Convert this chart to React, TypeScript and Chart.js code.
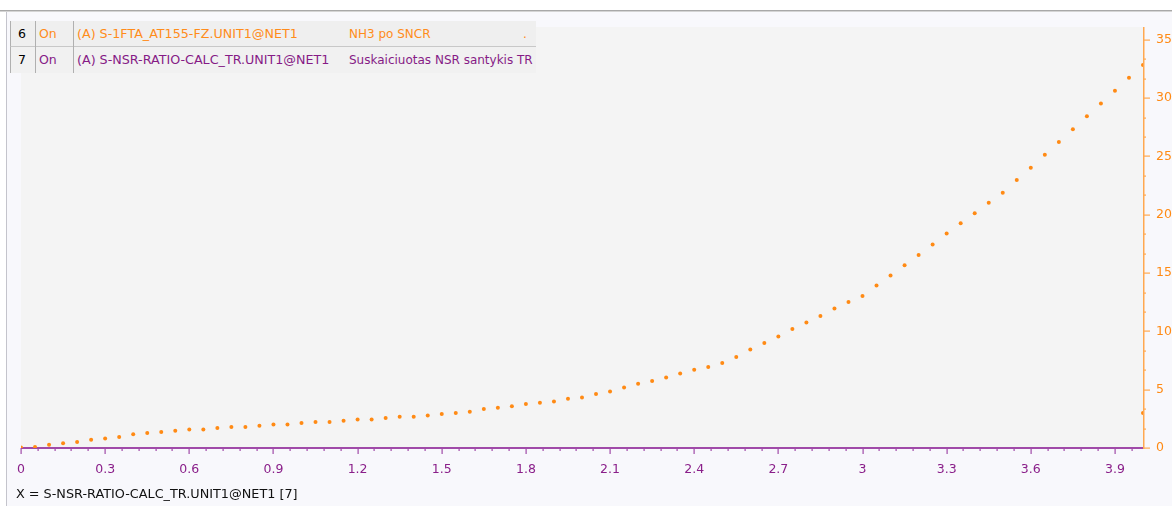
import React, { useEffect, useRef } from "react";
import { Chart, registerables } from "chart.js";

Chart.register(...registerables);

// ---- data ----
const xValues = [
  0, 0.05, 0.1, 0.15, 0.2, 0.25, 0.3, 0.35, 0.4, 0.45,
  0.5, 0.55, 0.6, 0.65, 0.7, 0.75, 0.8, 0.85, 0.9, 0.95,
  1.0, 1.05, 1.1, 1.15, 1.2, 1.25, 1.3, 1.35, 1.4, 1.45,
  1.5, 1.55, 1.6, 1.65, 1.7, 1.75, 1.8, 1.85, 1.9, 1.95,
  2.0, 2.05, 2.1, 2.15, 2.2, 2.25, 2.3, 2.35, 2.4, 2.45,
  2.5, 2.55, 2.6, 2.65, 2.7, 2.75, 2.8, 2.85, 2.9, 2.95,
  3.0, 3.05, 3.1, 3.15, 3.2, 3.25, 3.3, 3.35, 3.4, 3.45,
  3.5, 3.55, 3.6, 3.65, 3.7, 3.75, 3.8, 3.85, 3.9, 3.95,
  4.0,
];
const nh3Values = [
  0.05, 0.09, 0.28, 0.4, 0.51, 0.71, 0.82, 0.94, 1.17, 1.28,
  1.37, 1.48, 1.59, 1.59, 1.71, 1.8, 1.8, 1.91, 2.02, 2.02,
  2.14, 2.23, 2.23, 2.34, 2.45, 2.45, 2.57, 2.68, 2.68, 2.79,
  2.91, 3.0, 3.11, 3.34, 3.45, 3.57, 3.77, 3.88, 3.99, 4.22,
  4.34, 4.64, 4.85, 5.19, 5.51, 5.74, 6.05, 6.39, 6.71, 6.94,
  7.28, 7.8, 8.45, 9.0, 9.56, 10.2, 10.76, 11.31, 11.96, 12.51,
  13.04, 13.94, 14.79, 15.68, 16.54, 17.44, 18.39, 19.28, 20.14, 21.02,
  21.88, 22.99, 24.04, 25.14, 26.24, 27.34, 28.44, 29.54, 30.64, 31.74,
  32.84,
];
const edgeX = [4.0];
const edgeY = [3.0];

const xTicks = [0, 0.3, 0.6, 0.9, 1.2, 1.5, 1.8, 2.1, 2.4, 2.7, 3, 3.3, 3.6, 3.9];
const xTickLabels = ["0", "0.3", "0.6", "0.9", "1.2", "1.5", "1.8", "2.1", "2.4", "2.7", "3", "3.3", "3.6", "3.9"];
const yTicks = [0, 5, 10, 15, 20, 25, 30, 35];
const yTickLabels = ["0", "5", "10", "15", "20", "25", "30", "35"];

const legendIds = ["6", "7"];
const legendStates = ["On", "On"];
const legendTags = ["(A) S-1FTA_AT155-FZ.UNIT1@NET1", "(A) S-NSR-RATIO-CALC_TR.UNIT1@NET1"];
const legendDescs = ["NH3 po SNCR", "Suskaiciuotas NSR santykis TR"];
const legendExtras = [".", ""];
const xAxisTitle = "X = S-NSR-RATIO-CALC_TR.UNIT1@NET1 [7]";

// ---- styles ----
const ORANGE = "#ff8a14";
const ORANGE_AXIS = "#ffa850";
const PURPLE = "#8a1f8a";
const PURPLE_AXIS = "#a04aa8";
const legendColors = ["#ff8c1a", "#861b86"];
const FONT = "'DejaVu Sans', sans-serif";

const X_MAX = 4.0;
const Y_MAX = 36.1;

const framePlugin = {
  id: "frame",
  beforeDraw(chart: any) {
    const { ctx, chartArea: a, width, height } = chart;
    ctx.save();
    ctx.fillStyle = "#ffffff";
    ctx.fillRect(0, 0, width, height);
    ctx.fillStyle = "#f8f8fc";
    ctx.fillRect(7, 12, width - 7, height - 12);
    ctx.fillStyle = "#f4f4f4";
    ctx.fillRect(a.left, a.top, a.right - a.left, a.bottom - a.top);
    ctx.fillStyle = "#a8a8a8";
    ctx.fillRect(0, 10, width, 1);
    ctx.fillStyle = "#d4d4d4";
    ctx.fillRect(0, 11, width, 1);
    ctx.fillStyle = "#c4c4cc";
    ctx.fillRect(6, 12, 1, height - 12);
    ctx.restore();
  },
  beforeDatasetsDraw(chart: any) {
    const { ctx, chartArea: a } = chart;
    const xs = chart.scales.x;
    const ys = chart.scales.y;
    ctx.save();
    // x axis
    ctx.fillStyle = PURPLE_AXIS;
    ctx.fillRect(a.left, a.bottom - 1, a.right - a.left, 2);
    for (let i = 0; i * 0.06 <= X_MAX + 1e-9; i++) {
      const px = Math.round(xs.getPixelForValue(i * 0.06));
      if (px > a.right) break;
      const len = i % 5 === 0 ? 6 : 3;
      ctx.fillRect(px - 0.5, a.bottom, 1.2, len);
    }
    // y axis
    ctx.fillStyle = ORANGE_AXIS;
    ctx.fillRect(a.right, a.top, 1.5, a.bottom - a.top + 1);
    for (let i = 0; (i * 5) / 3 <= Y_MAX; i++) {
      const py = Math.round(ys.getPixelForValue((i * 5) / 3));
      const len = i % 3 === 0 ? 7 : 3;
      ctx.fillRect(a.right, py - 0.5, len, 1.2);
    }
    ctx.restore();
  },
};

export default function App() {
  const canvasRef = useRef<HTMLCanvasElement | null>(null);

  useEffect(() => {
    document.body.style.margin = "0";
    const canvas = canvasRef.current;
    if (!canvas) return;
    const chart = new Chart(canvas, {
      type: "scatter",
      data: {
        datasets: [
          {
            label: "NH3 po SNCR",
            data: xValues.map((x, i) => ({ x, y: nh3Values[i] })),
            backgroundColor: ORANGE,
            borderColor: ORANGE,
            pointRadius: 2,
            pointBorderWidth: 0,
            clip: 0,
          },
          {
            label: "edge",
            data: edgeX.map((x, i) => ({ x, y: edgeY[i] })),
            backgroundColor: ORANGE,
            borderColor: ORANGE,
            pointRadius: 2,
            pointBorderWidth: 0,
            clip: 0,
          },
        ],
      },
      options: {
        animation: false,
        responsive: false,
        devicePixelRatio: 1,
        layout: { padding: { left: 21, top: 27, right: 0, bottom: 0 } },
        plugins: {
          legend: { display: false },
          tooltip: { enabled: false },
        },
        scales: {
          x: {
            type: "linear",
            position: "bottom",
            min: 0,
            max: X_MAX,
            afterBuildTicks: (s: any) => {
              s.ticks = xTicks.map((v) => ({ value: v }));
            },
            afterFit: (s: any) => {
              s.height = 58;
            },
            grid: { display: false, drawTicks: false },
            border: { display: false },
            ticks: {
              color: PURPLE,
              font: { family: FONT, size: 12.5 },
              padding: 14,
              maxRotation: 0,
              autoSkip: false,
              callback: (v: any) => {
                const idx = xTicks.findIndex((t) => Math.abs(t - v) < 1e-6);
                return idx >= 0 ? xTickLabels[idx] : "";
              },
            },
          },
          y: {
            type: "linear",
            position: "right",
            min: 0,
            max: Y_MAX,
            afterBuildTicks: (s: any) => {
              s.ticks = yTicks.map((v) => ({ value: v }));
            },
            afterFit: (s: any) => {
              s.width = 29;
            },
            grid: { display: false, drawTicks: false },
            border: { display: false },
            ticks: {
              color: ORANGE,
              font: { family: FONT, size: 12.5 },
              padding: 13,
              autoSkip: false,
              callback: (v: any) => {
                const idx = yTicks.findIndex((t) => Math.abs(t - v) < 1e-6);
                return idx >= 0 ? yTickLabels[idx] : "";
              },
            },
          },
        },
      },
      plugins: [framePlugin],
    } as any);
    return () => chart.destroy();
  }, []);

  const rowH = 26;
  return (
    <div style={{ position: "absolute", left: 0, top: 0, width: 1172, height: 506, overflow: "hidden" }}>
      <canvas ref={canvasRef} width={1172} height={506} style={{ width: 1172, height: 506, display: "block" }} />
      <div style={{ position: "absolute", left: 10, top: 21, width: 526, fontFamily: FONT, fontSize: 12 }}>
        {legendIds.map((id, i) => (
          <div
            key={id}
            style={{
              position: "absolute",
              left: 0,
              top: i * rowH,
              width: 526,
              height: rowH,
              background: i === 0 ? "#efefef" : "#f1f1f1",
              borderBottom: i === 0 ? "1px solid #c8c8c8" : "none",
              borderLeft: "1px solid #b0b0b0",
              boxSizing: "border-box",
              lineHeight: rowH + "px",
              whiteSpace: "nowrap",
            }}
          >
            <span style={{ position: "absolute", left: 7, color: "#000", fontSize: 12.5 }}>{id}</span>
            <span style={{ position: "absolute", left: 24, top: 0, width: 1, height: rowH, background: "#b0b0b0" }} />
            <span style={{ position: "absolute", left: 28, color: legendColors[i], fontSize: 12.5 }}>{legendStates[i]}</span>
            <span style={{ position: "absolute", left: 62, top: 0, width: 1, height: rowH, background: "#b0b0b0" }} />
            <span style={{ position: "absolute", left: 66, color: legendColors[i], fontSize: 12.7 }}>{legendTags[i]}</span>
            <span style={{ position: "absolute", left: 338, color: legendColors[i], fontSize: 12 }}>{legendDescs[i]}</span>
            <span style={{ position: "absolute", left: 512, color: legendColors[i] }}>{legendExtras[i]}</span>
          </div>
        ))}
      </div>
      <div
        style={{
          position: "absolute",
          left: 16,
          top: 486,
          fontFamily: FONT,
          fontSize: 12.8,
          color: "#111",
          whiteSpace: "nowrap",
        }}
      >
        {xAxisTitle}
      </div>
    </div>
  );
}
